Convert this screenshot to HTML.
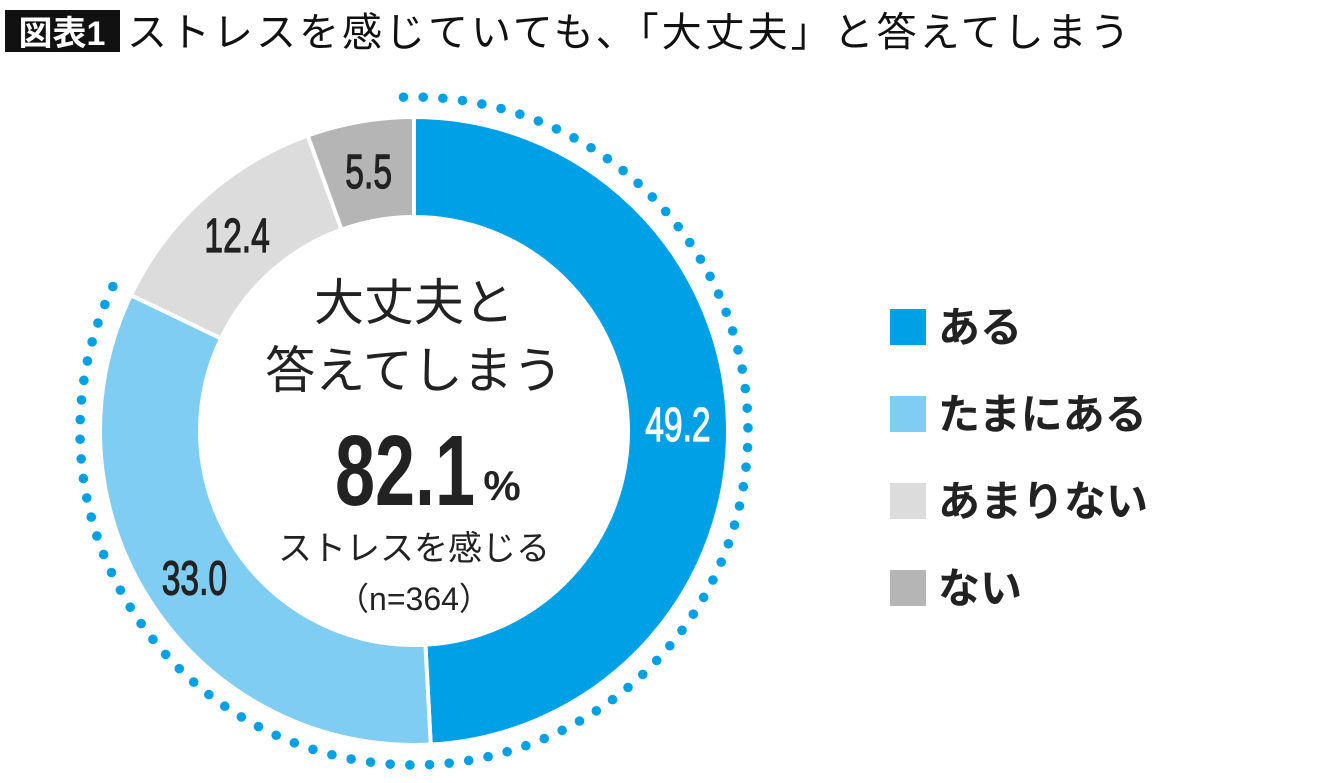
<!DOCTYPE html>
<html><head><meta charset="utf-8"><style>
html,body{margin:0;padding:0;background:#fff;width:1340px;height:783px;overflow:hidden}
svg{display:block;font-family:"Liberation Sans","Noto Sans CJK JP",sans-serif}
</style></head><body>
<svg width="1340" height="783" viewBox="0 0 1340 783">
<rect x="5" y="10" width="115" height="42" fill="#111"/>
<text x="62" y="45" font-size="34" font-weight="bold" fill="#fff" text-anchor="middle">図表1</text>
<text x="127" y="46" font-size="40" letter-spacing="3" fill="#111">ストレスを感じていても、「大丈夫」と答えてしまう</text>
<g id="ring"></g>
<g id="labels"></g>
<g fill="#222" text-anchor="middle">
<text x="414" y="320" font-size="50">大丈夫と</text>
<text x="414" y="388" font-size="50">答えてしまう</text>
<g transform="translate(405,505) scale(0.72,1)"><text x="0" y="0" font-size="100" font-weight="bold">82.1</text></g>
<text x="502" y="500" font-size="42" font-weight="bold">%</text>
<text x="414" y="560" font-size="34">ストレスを感じる</text>
<text x="414" y="610" font-size="32">（n=364）</text>
</g>
<g id="legend"></g>
</svg>
<script>
const categories=["ある","たまにある","あまりない","ない"];
const values=[49.2,33.0,12.4,5.5];
const valueLabels=["49.2","33.0","12.4","5.5"];
const colors=["#00a0e6","#80cdf3","#dcdcdc","#b5b5b5"];
const cx=414,cy=431,R=314,r=214;
const NS="http://www.w3.org/2000/svg";
const total=values.reduce((a,b)=>a+b,0);
function pt(rad,f){const a=f*2*Math.PI-Math.PI/2;return [cx+rad*Math.cos(a),cy+rad*Math.sin(a)];}
const ring=document.getElementById('ring'),labels=document.getElementById('labels'),legend=document.getElementById('legend');
let acc=0;
values.forEach((v,i)=>{
 const f0=acc/total,f1=(acc+v)/total;acc+=v;
 const [x0,y0]=pt(R,f0),[x1,y1]=pt(R,f1),[x2,y2]=pt(r,f1),[x3,y3]=pt(r,f0);
 const lg=(f1-f0)>0.5?1:0;
 const p=document.createElementNS(NS,'path');
 p.setAttribute('d',`M${x0},${y0}A${R},${R} 0 ${lg} 1 ${x1},${y1}L${x2},${y2}A${r},${r} 0 ${lg} 0 ${x3},${y3}Z`);
 p.setAttribute('fill',colors[i]);p.setAttribute('stroke','#fff');p.setAttribute('stroke-width','4');
 
 
 ring.appendChild(p);
 const [lx,ly]=pt((R+r)/2,(f0+f1)/2);
 const g=document.createElementNS(NS,'g');
 g.setAttribute('transform',`translate(${lx},${ly+17}) scale(0.7,1)`);
 const t=document.createElementNS(NS,'text');
 t.setAttribute('text-anchor','middle');t.setAttribute('font-size','48');
 const col=i===0?'#fff':'#222';
 t.setAttribute('fill',col);t.setAttribute('stroke',col);t.setAttribute('stroke-width','1.2');
 t.textContent=valueLabels[i];
 
 
 g.appendChild(t);labels.appendChild(g);
 const sq=document.createElementNS(NS,'rect');
 sq.setAttribute('x',890);sq.setAttribute('y',309+i*87);sq.setAttribute('width',36);sq.setAttribute('height',36);sq.setAttribute('fill',colors[i]);
 
 
 legend.appendChild(sq);
 const lt=document.createElementNS(NS,'text');
 lt.setAttribute('x',938);lt.setAttribute('y',342+i*87);lt.setAttribute('font-size','42');lt.setAttribute('font-weight','bold');lt.setAttribute('fill','#222');
 lt.textContent=categories[i];
 
 
 legend.appendChild(lt);
});
// dotted arc over ある + たまにある
const endF=(values[0]+values[1])/total, DR=334;
const n=Math.round(endF*2*Math.PI*DR/19.5);
for(let k=0;k<=n;k++){
 const [dx,dy]=pt(DR,-0.005+k/n*(endF+0.005));
 const c=document.createElementNS(NS,'circle');
 c.setAttribute('cx',dx);c.setAttribute('cy',dy);c.setAttribute('r',4.8);c.setAttribute('fill','#00a0e6');
 
 
 ring.appendChild(c);
}
</script>
</body></html>
